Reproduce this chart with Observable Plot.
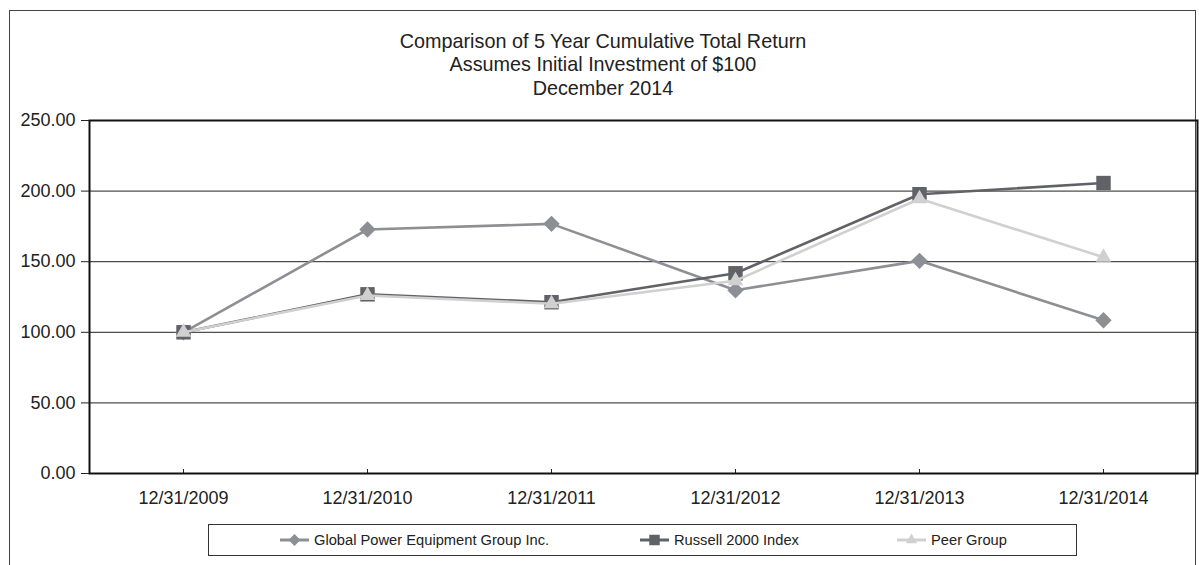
<!DOCTYPE html>
<html>
<head>
<meta charset="utf-8">
<script src="https://cdn.jsdelivr.net/npm/d3@7"></script>
<script src="https://cdn.jsdelivr.net/npm/@observablehq/plot@0.6"></script>
<style>
  html, body { margin: 0; padding: 0; background: #fff; }
  body { width: 1199px; height: 565px; overflow: hidden; position: relative; font-family: "Liberation Sans", Arial, sans-serif; color: #222; }
  #frame { position: absolute; left: 9px; top: 10px; width: 1187px; height: 600px; border-left: 1.5px solid #444; border-top: 1.5px solid #444; border-right: 1.5px solid #444; box-sizing: border-box; }
  #title { position: absolute; left: 9px; top: 30px; width: 1188px; text-align: center; font-size: 19.8px; line-height: 23.3px; color: #222; }
  #chart { position: absolute; left: 0; top: 0; }
  #legend { position: absolute; left: 208px; top: 524px; width: 869px; height: 32px; border: 1.5px solid #333; box-sizing: border-box; font-family: "Liberation Sans", Arial, sans-serif; font-size: 14.7px; color: #222; }
  .item { position: absolute; top: 0; height: 29px; display: flex; align-items: center; gap: 4px; white-space: nowrap; }
</style>
</head>
<body>
<div id="frame"></div>
<div id="title">Comparison of 5 Year Cumulative Total Return<br>Assumes Initial Investment of $100<br>December 2014</div>
<div id="chart"></div>
<div id="legend"></div>
<script>
const dates = ["12/31/2009", "12/31/2010", "12/31/2011", "12/31/2012", "12/31/2013", "12/31/2014"];
const seriesNames = ["Global Power Equipment Group Inc.", "Russell 2000 Index", "Peer Group"];
const gpegValues = [100, 172.8, 176.8, 129.8, 150.6, 108.5];
const russellValues = [100, 126.9, 121.3, 141.8, 197.8, 205.7];
const peerValues = [100, 126.1, 120.2, 136.5, 194.6, 153.2];
const yTicks = [0, 50, 100, 150, 200, 250];

const colors = ["#8e8f94", "#616267", "#d0d0d0"];
const symbols = ["diamond2", "square2", "triangle2"];
const radii = [7.4, 9.2, 7.4];
const allValues = [gpegValues, russellValues, peerValues];

const rows = [];
seriesNames.forEach((name, i) => {
  dates.forEach((d, j) => rows.push({series: name, date: d, value: allValues[i][j]}));
});

const marks = [
  Plot.ruleY([50, 100, 150, 200], {stroke: "#222", strokeWidth: 1}),
  Plot.ruleX(dates, {x: d => d, y1: 0, y2: 2.8, stroke: "#222", strokeWidth: 1})
];
seriesNames.forEach((name, i) => {
  const data = rows.filter(r => r.series === name);
  marks.push(Plot.line(data, {x: "date", y: "value", stroke: colors[i], strokeWidth: 2.6}));
  marks.push(Plot.dot(data, {x: "date", y: "value", symbol: () => symbols[i], fill: colors[i], r: radii[i], stroke: "none"}));
});
marks.push(Plot.frame({stroke: "#111", strokeWidth: 2}));
marks.push(Plot.axisY({ticks: yTicks, tickFormat: d => d.toFixed(2), tickSize: 8, tickPadding: 6, fontSize: 18, stroke: "#222"}));
marks.push(Plot.axisX({tickSize: 0, tickPadding: 18, fontSize: 18}));

const chart = Plot.plot({
  width: 1199,
  height: 520,
  marginTop: 120,
  marginBottom: 47,
  marginLeft: 89,
  marginRight: 2,
  style: {fontFamily: "'Liberation Sans', Arial, sans-serif", fontSize: "18px", color: "#222", background: "transparent"},
  x: {type: "point", domain: dates, padding: 0.5, label: null},
  y: {domain: [0, 250], label: null},
  marks
});
document.getElementById("chart").appendChild(chart);

// legend
const legend = d3.select("#legend");
const itemLefts = [70, 430, 687];
seriesNames.forEach((name, i) => {
  const item = legend.append("div").attr("class", "item").style("left", itemLefts[i] + "px");
  const svg = item.append("svg").attr("width", 31).attr("height", 16);
  svg.append("line").attr("x1", 1).attr("x2", 30).attr("y1", 8).attr("y2", 8).attr("stroke", colors[i]).attr("stroke-width", 3);
  const sym = {diamond2: d3.symbolDiamond2, square2: d3.symbolSquare2, triangle2: d3.symbolTriangle2}[symbols[i]];
  svg.append("path").attr("transform", "translate(15.5,8)").attr("d", d3.symbol(sym, i === 1 ? 140 : 90)()).attr("fill", colors[i]);
  item.append("span").text(name);
});
</script>
</body>
</html>
